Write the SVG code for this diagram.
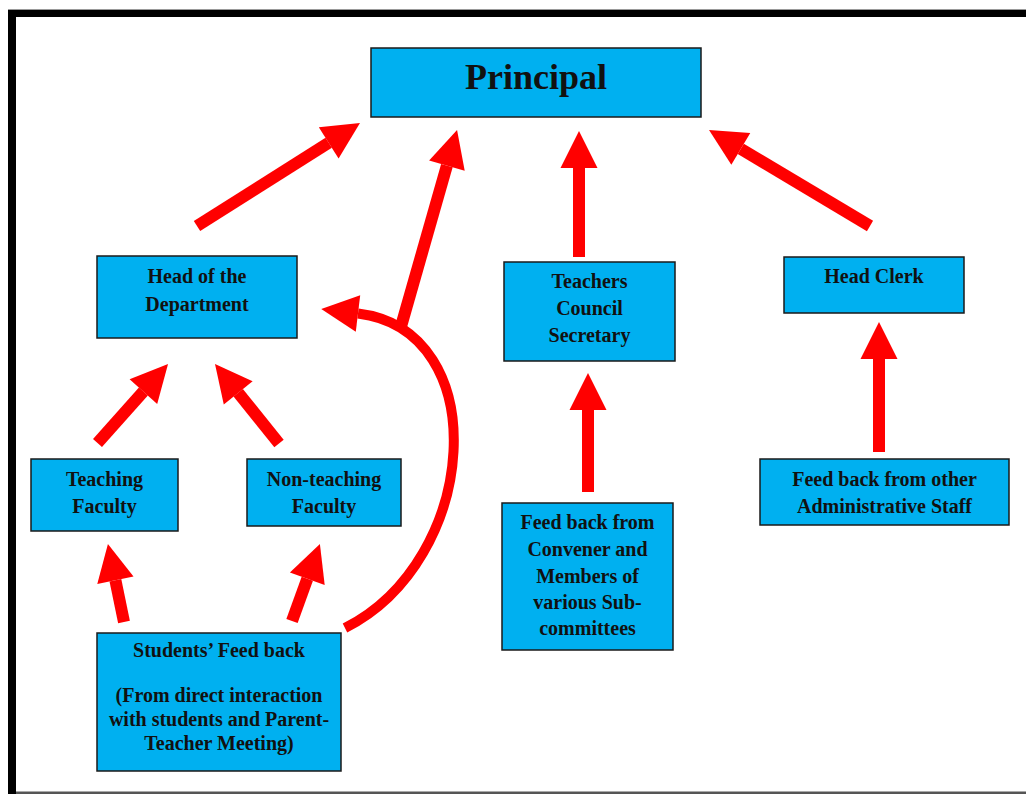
<svg xmlns="http://www.w3.org/2000/svg" width="1026" height="794" viewBox="0 0 1026 794">
<style>
.box{fill:#00B0F0;stroke:#1a1a1a;stroke-width:1.5}
.t{font-family:"Liberation Serif","Times New Roman",serif;font-weight:bold;font-size:20px;fill:#111;text-anchor:middle}
.big{font-size:36px}
.arr{stroke:#FF0000;stroke-width:12;fill:none;stroke-linecap:butt;marker-end:url(#head)}
.curve{stroke:#FF0000;stroke-width:10;fill:none;marker-end:url(#head)}
</style>
<defs>
<marker id="head" markerUnits="userSpaceOnUse" viewBox="0 -20 40 40" markerWidth="40" markerHeight="40" refX="0" refY="0" orient="auto" overflow="visible">
<path d="M0,-18.5 L37,0 L0,18.5 Z" fill="#FF0000"/>
</marker>
</defs>
<rect width="1026" height="794" fill="#fff"/>
<g id="frame">
<rect x="8" y="9" width="1018" height="1" fill="#999"/>
<rect x="8" y="10" width="1018" height="7" fill="#000"/>
<rect x="8" y="10" width="8" height="784" fill="#000"/>
<rect x="16" y="791.5" width="1010" height="2.5" fill="#555"/>
</g>
<g id="connectors">
<line class="arr" x1="197" y1="226" x2="328.7" y2="142.8"/>
<line class="arr" x1="400" y1="330" x2="446.9" y2="165.6"/>
<line class="arr" x1="579" y1="257" x2="579" y2="168"/>
<line class="arr" x1="870" y1="226" x2="740.8" y2="148.9"/>
<line class="arr" x1="97.5" y1="443" x2="143.4" y2="391.6"/>
<line class="arr" x1="279" y1="443.5" x2="238.2" y2="392.8"/>
<line class="arr" x1="124" y1="622" x2="115.4" y2="580.3"/>
<line class="arr" x1="292" y1="621" x2="307.3" y2="578.8"/>
<line class="arr" x1="588" y1="492" x2="588" y2="410"/>
<line class="arr" x1="879" y1="452" x2="879" y2="359"/>
<path class="curve" d="M345,628 C480,560 495,330 358,313.5"/>
</g>
<g id="principal">
<rect class="box" x="371" y="48" width="330" height="69"/>
<text class="t big" x="536" y="89">Principal</text>
</g>
<g id="head-of-department">
<rect class="box" x="97" y="256" width="200" height="82"/>
<text class="t" x="197" y="283">Head of the</text>
<text class="t" x="197" y="311">Department</text>
</g>
<g id="teachers-council-secretary">
<rect class="box" x="504" y="262" width="171" height="99"/>
<text class="t" x="589.5" y="288">Teachers</text>
<text class="t" x="589.5" y="315">Council</text>
<text class="t" x="589.5" y="342">Secretary</text>
</g>
<g id="head-clerk">
<rect class="box" x="784" y="257" width="180" height="56"/>
<text class="t" x="874" y="283">Head Clerk</text>
</g>
<g id="teaching-faculty">
<rect class="box" x="31" y="459" width="147" height="72"/>
<text class="t" x="104.5" y="486">Teaching</text>
<text class="t" x="104.5" y="513">Faculty</text>
</g>
<g id="non-teaching-faculty">
<rect class="box" x="247" y="459" width="154" height="67"/>
<text class="t" x="324" y="486">Non-teaching</text>
<text class="t" x="324" y="513">Faculty</text>
</g>
<g id="students-feedback">
<rect class="box" x="97" y="633" width="244" height="138"/>
<text class="t" x="219" y="657">Students’ Feed back</text>
<text class="t" x="219" y="702">(From direct interaction</text>
<text class="t" x="219" y="726">with students and Parent-</text>
<text class="t" x="219" y="750">Teacher Meeting)</text>
</g>
<g id="convener-feedback">
<rect class="box" x="502" y="503" width="171" height="147"/>
<text class="t" x="587.5" y="529">Feed back from</text>
<text class="t" x="587.5" y="556">Convener and</text>
<text class="t" x="587.5" y="583">Members of</text>
<text class="t" x="587.5" y="609">various Sub-</text>
<text class="t" x="587.5" y="635">committees</text>
</g>
<g id="admin-feedback">
<rect class="box" x="760" y="459" width="249" height="66"/>
<text class="t" x="884.5" y="486">Feed back from other</text>
<text class="t" x="884.5" y="513">Administrative Staff</text>
</g>
</svg>
